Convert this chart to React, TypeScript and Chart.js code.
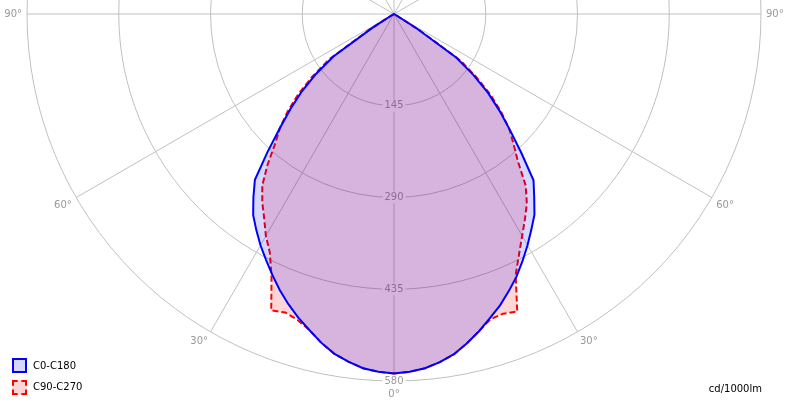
import { useEffect, useRef } from "react"
import { Chart, registerables } from "chart.js"

Chart.register(...registerables)

// gamma angles (degrees from nadir) the intensities are given for
const gammaAngles = [
  0, 2.5, 5, 7.5, 10, 12.5, 15, 17.5, 20, 22.5, 25, 27.5, 30, 32.5, 35, 37.5, 40, 42.5, 45,
  47.5, 50, 52.5, 55, 57.5, 60, 62.5, 65, 67.5, 70, 72.5, 75, 77.5, 80, 82.5, 85, 87.5, 90,
]

// cd/1000lm, right half = C0 / C90, left half = C180 / C270
const c0Values = [
  568, 566, 562, 555, 546, 533, 519, 504, 490, 474, 458, 440, 422, 404, 387, 364, 343, 298, 259,
  226, 194, 158, 120, 42, 4, 1, 0, 0, 0, 0, 0, 0, 0, 0, 0, 0, 0,
]
const c180Values = [
  568, 566, 562, 554, 545, 532, 517, 503, 488, 472, 455, 438, 422, 405, 388, 365, 342, 296, 255,
  222, 190, 155, 117, 40, 4, 1, 0, 0, 0, 0, 0, 0, 0, 0, 0, 0, 0,
]
const c90Values = [
  568, 566, 562, 555, 546, 533, 519, 506, 504, 509, 455, 428, 405, 385, 366, 342, 305, 280, 258,
  230, 200, 165, 128, 48, 5, 1, 0, 0, 0, 0, 0, 0, 0, 0, 0, 0, 0,
]
const c270Values = [
  568, 566, 562, 554, 545, 532, 517, 507, 502, 507, 458, 425, 405, 382, 363, 342, 311, 278, 255,
  228, 198, 163, 125, 46, 5, 1, 0, 0, 0, 0, 0, 0, 0, 0, 0, 0, 0,
]

const intensityTicks = [145, 290, 435, 580]
const angleTicks = [0, 30, 60, 90]
const seriesNames = ["C0-C180", "C90-C270"]
const unitLabel = "cd/1000lm"

const STEP = 2.5
const SLOTS = 360 / STEP
const CENTER_X = 394
const CENTER_Y = 14

const radarLabels = Array.from({ length: SLOTS }, (_, i) => String(i * STEP))

// index 0 points down, indices run clockwise (down -> left -> up -> right)
function toRadar(left: number[], right: number[]) {
  const out = new Array(SLOTS).fill(0)
  gammaAngles.forEach((g, i) => {
    const k = Math.round(g / STEP)
    out[k] = left[i]
    out[(SLOTS - k) % SLOTS] = right[i]
  })
  return out
}

const FONT = "10px 'DejaVu Sans'"

const labelPlugin = {
  id: "polarLabels",
  beforeDatasetsDraw(chart: any) {
    const scale = chart.scales.r
    const ctx = chart.ctx
    ctx.save()
    ctx.font = FONT
    ctx.textAlign = "center"
    ctx.textBaseline = "middle"
    intensityTicks.forEach((v) => {
      const p = scale.getPointPositionForValue(0, v)
      const txt = String(v)
      const w = ctx.measureText(txt).width
      ctx.fillStyle = "#ffffff"
      ctx.fillRect(p.x - w / 2 - 2, p.y - 6, w + 4, 12)
      ctx.fillStyle = "#999999"
      ctx.fillText(txt, p.x, p.y)
    })
    angleTicks.forEach((a) => {
      const k = Math.round(a / STEP)
      const idx = Array.from(new Set([k, (SLOTS - k) % SLOTS]))
      idx.forEach((i) => {
        const p = scale.getPointPosition(i, scale.drawingArea + (a === 0 ? 8 : 5))
        const dx = p.x - scale.xCenter
        ctx.textAlign = Math.abs(dx) < 1 ? "center" : dx < 0 ? "right" : "left"
        ctx.textBaseline = a === 90 ? "middle" : "top"
        ctx.fillStyle = "#999999"
        ctx.fillText(`${a}°`, p.x, p.y)
      })
    })
    ctx.restore()
  },
}

export default function App() {
  const canvasRef = useRef<HTMLCanvasElement>(null)
  const chartInstance = useRef<Chart | null>(null)

  useEffect(() => {
    if (!canvasRef.current) return
    if (chartInstance.current) chartInstance.current.destroy()

    const chart = new Chart(canvasRef.current, {
      type: "radar",
      data: {
        labels: radarLabels,
        datasets: [
          {
            label: seriesNames[0],
            data: toRadar(c180Values, c0Values),
            borderColor: "#0000ff",
            backgroundColor: "rgba(0, 0, 255, 0.16)",
            borderWidth: 2,
            fill: true,
          },
          {
            label: seriesNames[1],
            data: toRadar(c270Values, c90Values),
            borderColor: "#ff0000",
            backgroundColor: "rgba(255, 0, 0, 0.16)",
            borderWidth: 2,
            borderDash: [6, 3],
            fill: true,
          },
        ],
      },
      options: {
        responsive: false,
        animation: false,
        layout: { padding: 28 },
        elements: {
          point: { radius: 0, hoverRadius: 0 },
          line: { tension: 0, borderJoinStyle: "miter" },
        },
        plugins: {
          legend: { display: false },
          tooltip: { enabled: false },
        },
        scales: {
          r: {
            min: 0,
            max: 580,
            startAngle: 180,
            ticks: { display: false, stepSize: 145 },
            pointLabels: { display: false },
            grid: { circular: true, color: "#c0c0c0", lineWidth: 1 },
            angleLines: {
              color: "#c0c0c0",
              lineWidth: (ctx: any) => (ctx.index % 12 === 0 ? 1 : 0),
            },
          },
        },
      },
      plugins: [labelPlugin],
    })
    chartInstance.current = chart

    // put the pole of the diagram where the reference has it
    const r = chart.scales.r as any
    canvasRef.current.style.left = `${CENTER_X - r.xCenter}px`
    canvasRef.current.style.top = `${CENTER_Y - r.yCenter}px`

    return () => {
      if (chartInstance.current) {
        chartInstance.current.destroy()
        chartInstance.current = null
      }
    }
  }, [])

  const text: React.CSSProperties = {
    position: "absolute",
    font: FONT,
    color: "#000",
    lineHeight: "12px",
    whiteSpace: "nowrap",
  }

  return (
    <div
      style={{
        position: "fixed",
        left: 0,
        top: 0,
        width: 785,
        height: 403,
        overflow: "hidden",
        background: "#fff",
      }}
    >
      <canvas
        ref={canvasRef}
        width={790}
        height={790}
        style={{ position: "absolute", left: 0, top: -381, width: 790, height: 790 }}
      />
      <div
        style={{
          position: "absolute",
          left: 12,
          top: 358,
          width: 11,
          height: 11,
          border: "2px solid #0000ff",
          background: "rgba(0, 0, 255, 0.16)",
        }}
      />
      <div style={{ ...text, left: 33, top: 360 }}>{seriesNames[0]}</div>
      <div
        style={{
          position: "absolute",
          left: 12,
          top: 380,
          width: 11,
          height: 11,
          border: "2px dashed #ff0000",
          background: "rgba(255, 0, 0, 0.16)",
        }}
      />
      <div style={{ ...text, left: 33, top: 381 }}>{seriesNames[1]}</div>
      <div style={{ ...text, right: 23, top: 383 }}>{unitLabel}</div>
    </div>
  )
}
